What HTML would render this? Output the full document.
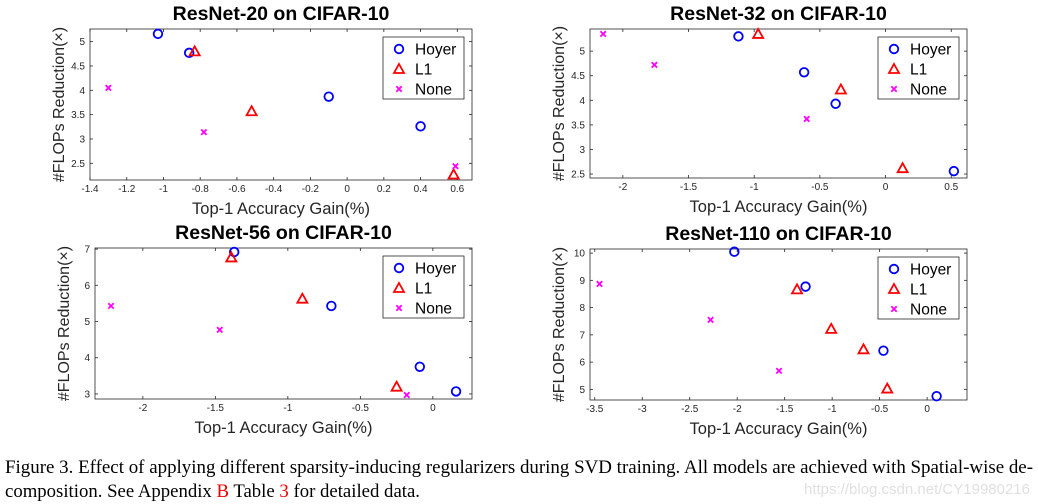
<!DOCTYPE html>
<html><head><meta charset="utf-8"><style>
body{margin:0;background:#fff;width:1038px;height:504px;overflow:hidden}
svg{display:block}
text{font-family:"Liberation Sans",sans-serif}
</style></head><body>
<svg id="fig" width="1038" height="504" viewBox="0 0 1038 504" xmlns="http://www.w3.org/2000/svg">
<text x="5" y="473" font-size="19" textLength="1028" lengthAdjust="spacingAndGlyphs" style="font-family:'Liberation Serif',serif">Figure 3. Effect of applying different sparsity-inducing regularizers during SVD training. All models are achieved with Spatial-wise de-</text>
<text x="5" y="497" font-size="19" textLength="415" lengthAdjust="spacingAndGlyphs" style="font-family:'Liberation Serif',serif">composition. See Appendix <tspan fill="#e00">B</tspan> Table <tspan fill="#e00">3</tspan> for detailed data.</text>
<text x="1030" y="494" text-anchor="end" font-size="15" fill="#e0e0e0">https://blog.csdn.net/CY19980216</text>
</svg>
<script>
// ResNet-20
const r20HoyerX=[-1.03,-0.86,-0.1,0.4], r20HoyerY=[5.16,4.77,3.87,3.26];
const r20L1X=[-0.83,-0.52,0.58], r20L1Y=[4.8,3.57,2.27];
const r20NoneX=[-1.3,-0.78,0.59], r20NoneY=[4.05,3.14,2.44];
const r20XTicks=[-1.4,-1.2,-1,-0.8,-0.6,-0.4,-0.2,0,0.2,0.4,0.6];
const r20YTicks=[2.5,3,3.5,4,4.5,5];
// ResNet-32
const r32HoyerX=[-1.12,-0.62,-0.38,0.52], r32HoyerY=[5.3,4.57,3.93,2.56];
const r32L1X=[-0.97,-0.34,0.13], r32L1Y=[5.35,4.22,2.62];
const r32NoneX=[-2.15,-1.76,-0.6], r32NoneY=[5.35,4.72,3.62];
const r32XTicks=[-2,-1.5,-1,-0.5,0,0.5];
const r32YTicks=[2.5,3,3.5,4,4.5,5];
// ResNet-56
const r56HoyerX=[-1.37,-0.7,-0.09,0.16], r56HoyerY=[6.92,5.43,3.75,3.07];
const r56L1X=[-1.39,-0.9,-0.25], r56L1Y=[6.77,5.63,3.2];
const r56NoneX=[-2.22,-1.47,-0.18], r56NoneY=[5.43,4.77,2.97];
const r56XTicks=[-2,-1.5,-1,-0.5,0];
const r56YTicks=[3,4,5,6,7];
// ResNet-110
const r110HoyerX=[-2.03,-1.28,-0.46,0.1], r110HoyerY=[10.05,8.77,6.42,4.75];
const r110L1X=[-1.37,-1.01,-0.67,-0.42], r110L1Y=[8.67,7.22,6.47,5.03];
const r110NoneX=[-3.45,-2.28,-1.56], r110NoneY=[8.87,7.55,5.68];
const r110XTicks=[-3.5,-3,-2.5,-2,-1.5,-1,-0.5,0];
const r110YTicks=[5,6,7,8,9,10];

const NS="http://www.w3.org/2000/svg";
const svg=document.getElementById('fig');
function mk(tag,attrs,parent){const e=document.createElementNS(NS,tag);for(const k in attrs)e.setAttribute(k,attrs[k]);(parent||svg).appendChild(e);return e;}

function panel(id,title,box,xlim,ylim,xt,yt,H,L,N){
  const g=mk('g',{});
  
  
  const [x0,y0,x1,y1]=box;
  const sx=v=>x0+(v-xlim[0])/(xlim[1]-xlim[0])*(x1-x0);
  const sy=v=>y1-(v-ylim[0])/(ylim[1]-ylim[0])*(y1-y0);
  const t=mk('text',{x:(x0+x1)/2,y:y0-9,'text-anchor':'middle','font-size':19.5,'font-weight':'bold'},g);
  t.textContent=title;
  
  
  const fr=mk('rect',{x:x0,y:y0,width:x1-x0,height:y1-y0,fill:'#fff',stroke:'#262626','stroke-width':0.8},g);
  
  
  xt.forEach(v=>{
    const X=sx(v);
    mk('line',{x1:X,x2:X,y1:y1,y2:y1-3,stroke:'#262626','stroke-width':0.8},g);
    mk('line',{x1:X,x2:X,y1:y0,y2:y0+3,stroke:'#262626','stroke-width':0.8},g);
    const l=mk('text',{x:X,y:y1+12,'text-anchor':'middle','font-size':10,fill:'#262626'},g);
    l.textContent=String(v);
    
    
  });
  yt.forEach(v=>{
    const Y=sy(v);
    mk('line',{x1:x0,x2:x0+3,y1:Y,y2:Y,stroke:'#262626','stroke-width':0.8},g);
    mk('line',{x1:x1,x2:x1-3,y1:Y,y2:Y,stroke:'#262626','stroke-width':0.8},g);
    const l=mk('text',{x:x0-5,y:Y+3.5,'text-anchor':'end','font-size':10,fill:'#262626'},g);
    l.textContent=String(v);
    
    
  });
  const xl=mk('text',{x:(x0+x1)/2,y:y1+34,'text-anchor':'middle','font-size':16.5,fill:'#262626'},g);
  xl.textContent='Top-1 Accuracy Gain(%)';
  
  
  const yx=x0-26, yy=(y0+y1)/2;
  const yl=mk('text',{x:yx,y:yy,'text-anchor':'middle','font-size':16,fill:'#262626',transform:`rotate(-90 ${yx} ${yy})`},g);
  yl.textContent='#FLOPs Reduction(×)';
  
  
  function circ(X,Y,p){return mk('circle',{cx:X,cy:Y,r:4.3,fill:'none',stroke:'#0000ff','stroke-width':1.8},p);}
  function tri(X,Y,p){return mk('path',{d:`M${X} ${Y-5}L${X+5} ${Y+4}L${X-5} ${Y+4}Z`,fill:'none',stroke:'#ff0000','stroke-width':1.8},p);}
  function cross(X,Y,p){return mk('path',{d:`M${X-2.7} ${Y-2.7}L${X+2.7} ${Y+2.7}M${X+2.7} ${Y-2.7}L${X-2.7} ${Y+2.7}`,stroke:'#ff00ff','stroke-width':1.8},p);}
  H[0].forEach((v,i)=>{const e=circ(sx(v),sy(H[1][i]),g);
    
    });
  L[0].forEach((v,i)=>{const e=tri(sx(v),sy(L[1][i]),g);
    
    });
  N[0].forEach((v,i)=>{const e=cross(sx(v),sy(N[1][i]),g);
    
    });
  const lx=x1-89, ly=y0+8;
  const lg=mk('g',{},g);
  
  
  mk('rect',{x:lx,y:ly,width:81,height:62,fill:'#fff',stroke:'#262626','stroke-width':0.8},lg);
  const names=['Hoyer','L1','None'];
  const fns=[circ,tri,cross];
  names.forEach((n,i)=>{
    const cy=ly+12+i*20;
    fns[i](lx+16,cy,lg);
    const tx=mk('text',{x:lx+32,y:cy+5.5,'font-size':15.5,fill:'#000'},lg);
    tx.textContent=n;
    
    
  });
}
panel('resnet20','ResNet-20 on CIFAR-10',[90,29,472,180],[-1.4,0.68],[2.157,5.26],r20XTicks,r20YTicks,[r20HoyerX,r20HoyerY],[r20L1X,r20L1Y],[r20NoneX,r20NoneY]);
panel('resnet32','ResNet-32 on CIFAR-10',[590,29,967,178],[-2.25,0.62],[2.42,5.45],r32XTicks,r32YTicks,[r32HoyerX,r32HoyerY],[r32L1X,r32L1Y],[r32NoneX,r32NoneY]);
panel('resnet56','ResNet-56 on CIFAR-10',[95,248,472,399],[-2.33,0.27],[2.86,7.03],r56XTicks,r56YTicks,[r56HoyerX,r56HoyerY],[r56L1X,r56L1Y],[r56NoneX,r56NoneY]);
panel('resnet110','ResNet-110 on CIFAR-10',[590,249,967,400],[-3.55,0.42],[4.61,10.15],r110XTicks,r110YTicks,[r110HoyerX,r110HoyerY],[r110L1X,r110L1Y],[r110NoneX,r110NoneY]);
</script>
</body></html>
